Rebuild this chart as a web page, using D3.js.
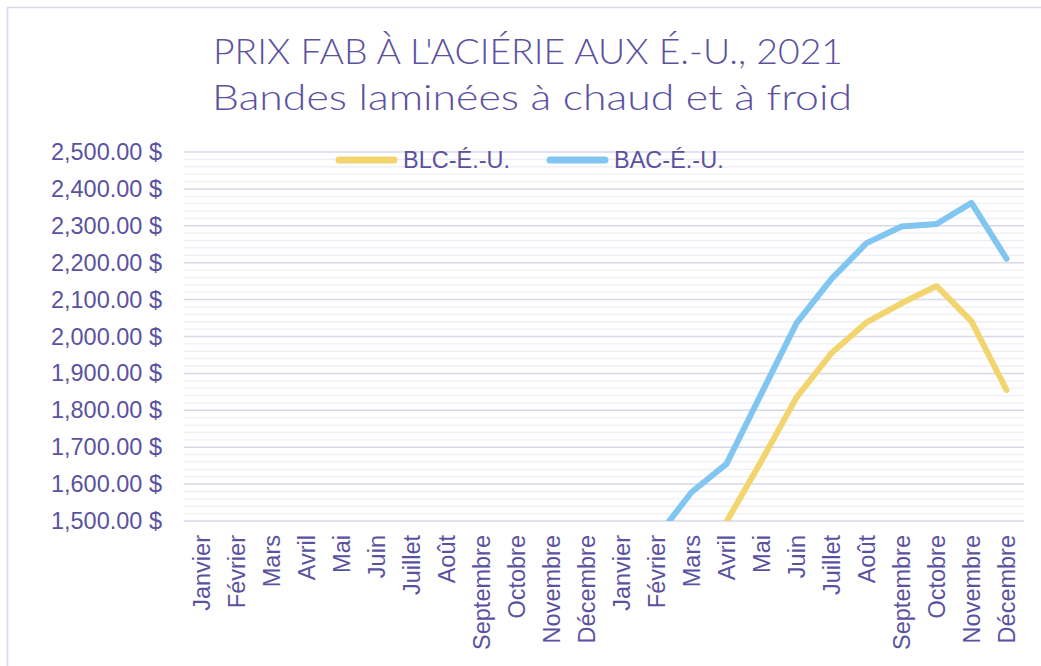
<!DOCTYPE html>
<html>
<head>
<meta charset="utf-8">
<script src="https://cdn.jsdelivr.net/npm/d3@7"></script>
<style>
  html, body { margin: 0; padding: 0; background: #ffffff; }
  svg { display: block; }
</style>
</head>
<body>
<svg id="chart" width="1041" height="666"></svg>
<script>
// ---- data ----
const titleLines = ["PRIX FAB À L'ACIÉRIE AUX É.-U., 2021", "Bandes laminées à chaud et à froid"];
const months = ["Janvier","Février","Mars","Avril","Mai","Juin","Juillet","Août","Septembre","Octobre","Novembre","Décembre"];
const categories = months.concat(months);
const seriesNames = ["BLC-É.-U.", "BAC-É.-U."];
// values below 1,500 $ are clipped by the axis minimum, as in the reference
const blcValues = [null,null,null,null,null,null,null,null,null,null,null,null,
                   null,null,1400,1498,1663,1835,1955,2038,2090,2137,2041,1855];
const bacValues = [null,null,null,null,null,null,null,null,null,null,null,null,
                   null,1455,1578,1655,1846,2036,2156,2253,2298,2305,2362,2211];
const yMajorTicks = [1500,1600,1700,1800,1900,2000,2100,2200,2300,2400,2500];
const yMinorTicks = d3.range(1500, 2501, 20);

// ---- styles ----
const textColor = "#5b529f";
const colors = ["#f2d56e", "#80c6f0"];
const font = "'Liberation Sans', Arial, sans-serif";

const svg = d3.select("#chart");
const plot = {left: 184, right: 1024, top: 152, bottom: 521};

// outer frame
svg.append("path")
  .attr("d", "M7.5,666 L7.5,7.5 L1041,7.5")
  .attr("fill", "none").attr("stroke", "#dad8ec").attr("stroke-width", 1.6);

// title
const titleG = svg.append("g").attr("fill", textColor)
  .attr("font-family", "'Century Gothic', 'Lato', 'DejaVu Sans', sans-serif")
  .attr("font-weight", 300)
  .attr("font-size", 35).attr("text-anchor", "middle");
titleG.append("text").attr("x", 528).attr("y", 64).attr("textLength", 630)
  .attr("lengthAdjust", "spacingAndGlyphs").text(titleLines[0]);
titleG.append("text").attr("x", 532).attr("y", 110).attr("textLength", 640)
  .attr("lengthAdjust", "spacingAndGlyphs").text(titleLines[1]);

// scales
const x = d3.scalePoint().domain(d3.range(categories.length))
  .range([plot.left, plot.right]).padding(0.5);
const y = d3.scaleLinear().domain([1500, 2500]).range([plot.bottom, plot.top]);

// minor grid
svg.append("g").selectAll("line").data(yMinorTicks.filter(v => v % 100 !== 0)).join("line")
  .attr("x1", plot.left).attr("x2", plot.right)
  .attr("y1", d => y(d)).attr("y2", d => y(d))
  .attr("stroke", "#efeef6").attr("stroke-width", 1.3);

// major grid
svg.append("g").selectAll("line").data(yMajorTicks).join("line")
  .attr("x1", plot.left).attr("x2", plot.right)
  .attr("y1", d => y(d)).attr("y2", d => y(d))
  .attr("stroke", "#d9d7ea").attr("stroke-width", 1.5);

// y axis labels
const fmt = v => d3.format(",.2f")(v) + " $";
const yAxis = d3.axisLeft(y).tickValues(yMajorTicks).tickFormat(fmt).tickSize(0).tickPadding(22);
const yG = svg.append("g").attr("transform", `translate(${plot.left},0)`).call(yAxis);
yG.select(".domain").remove();
yG.selectAll("text").attr("fill", textColor).attr("font-family", font).attr("font-size", 23.5);

// x axis labels
const xAxis = d3.axisBottom(x).tickFormat(i => categories[i]).tickSize(0);
const xG = svg.append("g").attr("transform", `translate(0,${plot.bottom})`).call(xAxis);
xG.select(".domain").remove();
xG.selectAll("text")
  .attr("fill", textColor).attr("font-family", font).attr("font-size", 23.5)
  .attr("text-anchor", "end")
  .attr("transform", "rotate(-90)")
  .attr("x", -14).attr("y", 0).attr("dy", "0.35em");

// clip
svg.append("defs").append("clipPath").attr("id", "clip")
  .append("rect").attr("x", plot.left).attr("y", plot.top - 20)
  .attr("width", plot.right - plot.left).attr("height", plot.bottom - plot.top + 20);

const line = d3.line().defined(d => d != null).x((d, i) => x(i)).y(d => y(d));
const series = [blcValues, bacValues];
const lg = svg.append("g").attr("clip-path", "url(#clip)");
series.forEach((s, k) => {
  lg.append("path").datum(s).attr("d", line)
    .attr("fill", "none").attr("stroke", colors[k]).attr("stroke-width", 6)
    .attr("stroke-linejoin", "round").attr("stroke-linecap", "round");
});

// legend
const legendX = [339, 550];
const legend = svg.append("g");
seriesNames.forEach((n, k) => {
  legend.append("line").attr("x1", legendX[k]).attr("x2", legendX[k] + 55)
    .attr("y1", 160).attr("y2", 160)
    .attr("stroke", colors[k]).attr("stroke-width", 7).attr("stroke-linecap", "round");
  legend.append("text").attr("x", legendX[k] + 64).attr("y", 168)
    .attr("fill", textColor).attr("font-family", font).attr("font-size", 23.5).text(n);
});
</script>
</body>
</html>
